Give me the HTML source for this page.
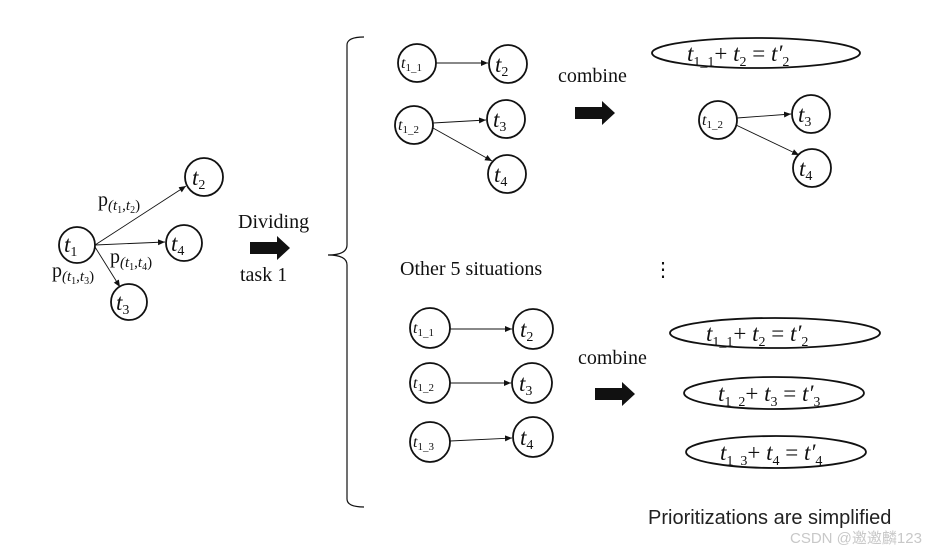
<!DOCTYPE html>
<html><head><meta charset="utf-8"><style>
html,body{margin:0;padding:0;background:#fff;width:945px;height:550px;overflow:hidden}
svg{display:block}
.m{font-family:"Liberation Serif","DejaVu Serif",serif;font-style:italic;fill:#111}
.r{font-family:"Liberation Serif",serif;fill:#111}
</style></head><body>
<svg width="945" height="550" viewBox="0 0 945 550" xmlns="http://www.w3.org/2000/svg">
<defs>
<marker id="a" markerWidth="8" markerHeight="8" refX="7" refY="3" orient="auto" markerUnits="userSpaceOnUse"><path d="M0,0 L7,3 L0,6 z" fill="#111"/></marker>
</defs>
<g fill="none" stroke="#111" stroke-width="1.8">
<circle cx="77" cy="245" r="18"/>
<circle cx="204" cy="177" r="19"/>
<circle cx="184" cy="243" r="18"/>
<circle cx="129" cy="302" r="18"/>
<circle cx="417" cy="63" r="19"/>
<circle cx="508" cy="64" r="19"/>
<circle cx="414" cy="125" r="19"/>
<circle cx="506" cy="119" r="19"/>
<circle cx="507" cy="174" r="19"/>
<ellipse cx="756" cy="53" rx="104" ry="15"/>
<circle cx="718" cy="120" r="19"/>
<circle cx="811" cy="114" r="19"/>
<circle cx="812" cy="168" r="19"/>
<circle cx="430" cy="328" r="20"/>
<circle cx="533" cy="329" r="20"/>
<circle cx="430" cy="383" r="20"/>
<circle cx="532" cy="383" r="20"/>
<circle cx="430" cy="442" r="20"/>
<circle cx="533" cy="437" r="20"/>
<ellipse cx="775" cy="333" rx="105" ry="15"/>
<ellipse cx="774" cy="393" rx="90" ry="16"/>
<ellipse cx="776" cy="452" rx="90" ry="16"/>
<path d="M364,37 Q347,37 347,45 L347,245 Q347,255 328,255 Q347,255 347,265 L347,499 Q347,507 364,507" stroke-width="1.2"/>
</g>
<g stroke="#111" stroke-width="0.9" marker-end="url(#a)">
<line x1="95" y1="245" x2="186" y2="186"/>
<line x1="95" y1="245" x2="165" y2="242"/>
<line x1="95" y1="247" x2="120" y2="287"/>
<line x1="436" y1="63" x2="488" y2="63"/>
<line x1="433" y1="123" x2="486" y2="120"/>
<line x1="433" y1="128" x2="492" y2="161"/>
<line x1="737" y1="118" x2="791" y2="114"/>
<line x1="736" y1="125" x2="799" y2="155"/>
<line x1="450" y1="329" x2="512" y2="329"/>
<line x1="450" y1="383" x2="511" y2="383"/>
<line x1="450" y1="441" x2="512" y2="438"/>
</g>
<path d="M250,242 L277,242 L277,236 L290,248 L277,260 L277,254 L250,254 z" fill="#111"/>
<path d="M575,107 L602,107 L602,101 L615,113 L602,125 L602,119 L575,119 z" fill="#111"/>
<path d="M595,388 L622,388 L622,382 L635,394 L622,406 L622,400 L595,400 z" fill="#111"/>
<g class="m" font-size="23">
<text x="64" y="252">t<tspan font-size="14" font-style="normal" dy="4">1</tspan></text>
<text x="192" y="185">t<tspan font-size="14" font-style="normal" dy="4">2</tspan></text>
<text x="171" y="251">t<tspan font-size="14" font-style="normal" dy="4">4</tspan></text>
<text x="116" y="310">t<tspan font-size="14" font-style="normal" dy="4">3</tspan></text>
<text x="495" y="72">t<tspan font-size="14" font-style="normal" dy="4">2</tspan></text>
<text x="493" y="127">t<tspan font-size="14" font-style="normal" dy="4">3</tspan></text>
<text x="494" y="182">t<tspan font-size="14" font-style="normal" dy="4">4</tspan></text>
<text x="798" y="122">t<tspan font-size="14" font-style="normal" dy="4">3</tspan></text>
<text x="799" y="176">t<tspan font-size="14" font-style="normal" dy="4">4</tspan></text>
<text x="520" y="337">t<tspan font-size="14" font-style="normal" dy="4">2</tspan></text>
<text x="519" y="391">t<tspan font-size="14" font-style="normal" dy="4">3</tspan></text>
<text x="520" y="445">t<tspan font-size="14" font-style="normal" dy="4">4</tspan></text>
</g>
<g class="m" font-size="16">
<text x="401" y="68">t<tspan font-size="11" font-style="normal" dy="3">1_1</tspan></text>
<text x="398" y="130">t<tspan font-size="11" font-style="normal" dy="3">1_2</tspan></text>
<text x="702" y="125">t<tspan font-size="11" font-style="normal" dy="3">1_2</tspan></text>
<text x="413" y="333">t<tspan font-size="11" font-style="normal" dy="3">1_1</tspan></text>
<text x="413" y="388">t<tspan font-size="11" font-style="normal" dy="3">1_2</tspan></text>
<text x="413" y="447">t<tspan font-size="11" font-style="normal" dy="3">1_3</tspan></text>
</g>
<g class="r" font-size="20">
<text x="98" y="206">p<tspan class="m" font-size="15" dy="4">(t</tspan><tspan font-size="10" dy="3">1</tspan><tspan font-size="15" dy="-3">,</tspan><tspan class="m" font-size="15">t</tspan><tspan font-size="10" dy="3">2</tspan><tspan font-size="15" dy="-3">)</tspan></text>
<text x="110" y="263">p<tspan class="m" font-size="15" dy="4">(t</tspan><tspan font-size="10" dy="3">1</tspan><tspan font-size="15" dy="-3">,</tspan><tspan class="m" font-size="15">t</tspan><tspan font-size="10" dy="3">4</tspan><tspan font-size="15" dy="-3">)</tspan></text>
<text x="52" y="277">p<tspan class="m" font-size="15" dy="4">(t</tspan><tspan font-size="10" dy="3">1</tspan><tspan font-size="15" dy="-3">,</tspan><tspan class="m" font-size="15">t</tspan><tspan font-size="10" dy="3">3</tspan><tspan font-size="15" dy="-3">)</tspan></text>
</g>
<g class="r" font-size="20">
<text x="238" y="228">Dividing</text>
<text x="240" y="281">task 1</text>
<text x="558" y="82">combine</text>
<text x="578" y="364">combine</text>
<text x="400" y="275">Other  5 situations</text>
<text x="653" y="276">⋮</text>
</g>
<g class="m" font-size="23">
<text x="687" y="61">t<tspan font-size="14" font-style="normal" dy="5">1_1</tspan><tspan font-style="normal" dy="-5">+ </tspan>t<tspan font-size="14" font-style="normal" dy="5">2</tspan><tspan font-style="normal" dy="-5"> = </tspan>t′<tspan font-size="14" font-style="normal" dy="5">2</tspan></text>
<text x="706" y="341">t<tspan font-size="14" font-style="normal" dy="5">1_1</tspan><tspan font-style="normal" dy="-5">+ </tspan>t<tspan font-size="14" font-style="normal" dy="5">2</tspan><tspan font-style="normal" dy="-5"> = </tspan>t′<tspan font-size="14" font-style="normal" dy="5">2</tspan></text>
<text x="718" y="401">t<tspan font-size="14" font-style="normal" dy="5">1_2</tspan><tspan font-style="normal" dy="-5">+ </tspan>t<tspan font-size="14" font-style="normal" dy="5">3</tspan><tspan font-style="normal" dy="-5"> = </tspan>t′<tspan font-size="14" font-style="normal" dy="5">3</tspan></text>
<text x="720" y="460">t<tspan font-size="14" font-style="normal" dy="5">1_3</tspan><tspan font-style="normal" dy="-5">+ </tspan>t<tspan font-size="14" font-style="normal" dy="5">4</tspan><tspan font-style="normal" dy="-5"> = </tspan>t′<tspan font-size="14" font-style="normal" dy="5">4</tspan></text>
</g>
<text x="648" y="524" font-family="'Liberation Sans',sans-serif" font-size="20" fill="#222">Prioritizations are simplified</text>
<text x="790" y="543" font-family="'Liberation Sans','Noto Sans CJK SC',sans-serif" font-size="15" fill="#c8c8c8">CSDN @邀邀麟123</text>
</svg>
</body></html>
